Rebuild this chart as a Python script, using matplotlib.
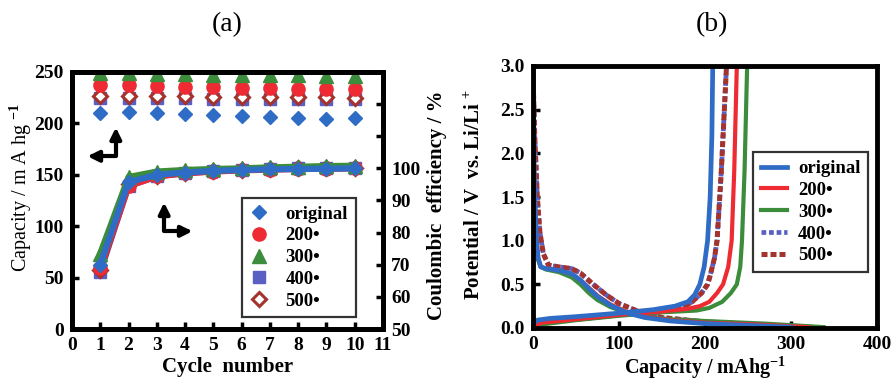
import matplotlib
matplotlib.use("Agg")
import matplotlib.pyplot as plt
import numpy as np

plt.rcParams["font.family"] = ["Liberation Serif", "DejaVu Serif"]
plt.rcParams["mathtext.fontset"] = "custom"
plt.rcParams["mathtext.rm"] = "Liberation Serif:bold"
plt.rcParams["mathtext.bf"] = "Liberation Serif:bold"

# ── (a) cycling data ─────────────────────────────────────────────────
cycles = [1, 2, 3, 4, 5, 6, 7, 8, 9, 10]
labels = ["original", "200\u2022", "300\u2022", "400\u2022", "500\u2022"]

cap_original = [210, 211, 210, 209, 208, 207, 206, 205, 204.5, 205]
cap_200 = [237, 237, 236, 235, 235, 234, 234, 233, 233, 233]
cap_300 = [249, 249, 248, 248, 247, 247, 247, 247, 246, 246]
cap_400 = [225, 225, 225, 225, 224, 224, 224, 224, 224, 224]
cap_500 = [227, 227, 227, 227, 226, 226, 226, 226, 226, 225]

ce_original = [70, 95.7, 98, 98.7, 99.2, 99.5, 99.7, 99.8, 99.9, 100]
ce_200 = [69, 94.5, 97.5, 98.5, 99, 99.4, 99.6, 99.8, 99.9, 100]
ce_300 = [73.5, 97.3, 99, 99.5, 99.8, 100, 100.3, 100.5, 100.7, 100.8]
ce_400 = [67.8, 94.5, 97.5, 98.5, 99.1, 99.5, 99.8, 100, 100.1, 100.2]
ce_500 = [68.3, 95, 97.7, 98.6, 99.2, 99.6, 99.9, 100, 100.1, 100.1]

# ── (b) charge / discharge curves (capacity, potential) ──────────────
dis_original_x = [0, 1, 2, 4, 6, 9, 15, 30, 45, 55, 65, 75, 90, 110, 130, 160, 200, 250, 300]
dis_original_y = [3.0, 2.0, 1.5, 1.0, 0.8, 0.7, 0.68, 0.66, 0.62, 0.55, 0.45, 0.36, 0.26, 0.17, 0.12, 0.08, 0.05, 0.03, 0.01]
dis_200_x = [0, 1, 2, 4, 6, 9, 15, 30, 45, 55, 65, 75, 90, 110, 130, 160, 200, 260, 320]
dis_200_y = [3.0, 2.0, 1.5, 1.0, 0.8, 0.7, 0.68, 0.66, 0.62, 0.55, 0.46, 0.37, 0.27, 0.18, 0.13, 0.09, 0.06, 0.04, 0.01]
dis_300_x = [0, 1, 2, 4, 6, 9, 15, 30, 45, 55, 65, 75, 90, 110, 130, 160, 200, 270, 338]
dis_300_y = [3.0, 1.8, 1.3, 0.95, 0.78, 0.7, 0.67, 0.64, 0.58, 0.5, 0.4, 0.32, 0.24, 0.17, 0.13, 0.1, 0.08, 0.05, 0.01]
dis_400_x = [0, 2, 5, 8, 12, 18, 30, 45, 55, 70, 85, 100, 120, 150, 200, 260, 322]
dis_400_y = [2.9, 2.2, 1.5, 1.1, 0.85, 0.72, 0.7, 0.68, 0.63, 0.5, 0.38, 0.28, 0.2, 0.12, 0.07, 0.04, 0.01]
dis_500_x = [0, 2, 5, 8, 12, 18, 30, 45, 55, 70, 85, 100, 120, 150, 200, 260, 324]
dis_500_y = [2.9, 2.2, 1.5, 1.1, 0.85, 0.72, 0.7, 0.68, 0.63, 0.5, 0.38, 0.28, 0.2, 0.12, 0.07, 0.04, 0.01]

chg_original_x = [0, 5, 20, 50, 100, 140, 165, 180, 188, 194, 199, 203, 206, 208, 209]
chg_original_y = [0.05, 0.09, 0.11, 0.13, 0.17, 0.21, 0.25, 0.3, 0.38, 0.5, 0.7, 1.0, 1.5, 2.2, 3.0]
chg_200_x = [0, 10, 50, 100, 150, 180, 194, 205, 214, 221, 227, 231, 234, 237]
chg_200_y = [0.02, 0.06, 0.1, 0.15, 0.19, 0.22, 0.25, 0.3, 0.4, 0.5, 0.7, 1.0, 1.8, 3.0]
chg_300_x = [0, 10, 50, 100, 150, 190, 205, 220, 230, 237, 241, 243, 246, 249]
chg_300_y = [0.0, 0.04, 0.09, 0.14, 0.18, 0.2, 0.23, 0.3, 0.4, 0.5, 0.7, 1.0, 1.8, 3.0]
chg_400_x = [0, 10, 50, 100, 150, 175, 185, 196, 203, 206, 211, 214, 219, 225]
chg_400_y = [0.03, 0.07, 0.1, 0.15, 0.2, 0.24, 0.3, 0.4, 0.5, 0.6, 0.8, 1.0, 1.8, 3.0]
chg_500_x = [0, 10, 50, 100, 150, 175, 185, 196, 203, 206, 211, 214, 219, 225]
chg_500_y = [0.03, 0.07, 0.1, 0.15, 0.2, 0.24, 0.3, 0.4, 0.5, 0.6, 0.8, 1.0, 1.8, 3.0]

C_BLUE = "#2f6cc6"
C_RED = "#ee2a32"
C_GREEN = "#3b8c3b"
C_PURPLE = "#5a5fc4"
C_DRED = "#a3332c"

W, H = 891, 379
fig = plt.figure(figsize=(W / 100, H / 100), dpi=100)


def px_axes(l, t, r, b):
    return fig.add_axes([l / W, 1 - b / H, (r - l) / W, (b - t) / H])


def style(ax):
    for s in ax.spines.values():
        s.set_linewidth(3.5)
    ax.tick_params(direction="in", width=2.5, length=5, labelsize=14, pad=6)
    for t in ax.get_xticklabels() + ax.get_yticklabels():
        t.set_fontweight("bold")


# ── panel (a) ────────────────────────────────────────────────────────
ax = px_axes(72, 72, 383, 329)
ax2 = ax.twinx()

series_a = [
    (cap_400, ce_400, "s", 8.5, C_PURPLE, C_PURPLE, "400"),
    (cap_500, ce_500, "D", 7, C_DRED, "white", "500"),
    (cap_200, ce_200, "o", 9.5, C_RED, C_RED, "200"),
    (cap_300, ce_300, "^", 9.5, C_GREEN, C_GREEN, "300"),
    (cap_original, ce_original, "D", 7, C_BLUE, C_BLUE, "original"),
]
handles = {}
for cap, ce, m, ms, ec, fc, name in series_a:
    mew = 2.2 if fc == "white" else 1
    h, = ax.plot(cycles, cap, m, ms=ms, mec=ec, mfc=fc, mew=mew, ls="none")
    handles[name] = h
    ax2.plot(cycles, ce, "-", color=ec, lw=4.5, marker=m, ms=ms, mec=ec, mfc=fc, mew=mew, zorder=3)

ax.set_xlim(0, 11)
ax.set_ylim(0, 250)
ax.set_xticks(range(0, 12))
ax.set_yticks(range(0, 251, 50))
ax2.set_ylim(50, 130)
ax2.set_yticks(range(50, 131, 10))
ax2.set_yticklabels([str(v) if v <= 100 else "" for v in range(50, 131, 10)])
style(ax)
style(ax2)
ax.tick_params(top=True)
ax.set_xlabel("Cycle  number", fontsize=15, fontweight="bold", va="center")
ax.xaxis.set_label_coords(0.5, -0.148)
ax.set_ylabel("Capacity / m A hg $^{\\mathrm{-1}}$", fontsize=14.5, va="center")
ax.yaxis.set_label_coords(-0.167, 0.55)
ax2.set_ylabel("Coulombic  efficiency / %", fontsize=15, fontweight="bold", va="center")
ax2.yaxis.set_label_coords(1.174, 0.48)

leg = ax.legend([handles[k] for k in ["original", "200", "300", "400", "500"]], labels,
                loc="upper left", bbox_to_anchor=(0.548, 0.51), frameon=True, fancybox=False,
                edgecolor="black", handlelength=1.0, handletextpad=0.9,
                labelspacing=0.25, borderpad=0.4, borderaxespad=0,
                prop={"weight": "bold", "size": 13.5})
leg.get_frame().set_linewidth(1.6)

arrow_kw = dict(arrowstyle="<|-|>", lw=3, color="black", mutation_scale=16, shrinkA=0, shrinkB=0)
ax.annotate("", xy=(1.55, 196), xytext=(0.55, 168),
            arrowprops=dict(connectionstyle="angle,angleA=0,angleB=90,rad=0", **arrow_kw))
ax.annotate("", xy=(3.26, 123), xytext=(4.26, 95),
            arrowprops=dict(connectionstyle="angle,angleA=180,angleB=90,rad=0", **arrow_kw))

fig.text(227 / W, 1 - 25 / H, "(a)", fontsize=20, ha="center", va="center",
         family=["Liberation Serif"])

# ── panel (b) ────────────────────────────────────────────────────────
bx = px_axes(533, 66, 877, 328)
curves = [
    (dis_400_x, dis_400_y, chg_400_x, chg_400_y, C_PURPLE, (0, (1.0, 0.6)), 3.4, "400"),
    (dis_500_x, dis_500_y, chg_500_x, chg_500_y, C_DRED, (0, (1.2, 0.6)), 3.6, "500"),
    (dis_300_x, dis_300_y, chg_300_x, chg_300_y, C_GREEN, "-", 3.0, "300"),
    (dis_200_x, dis_200_y, chg_200_x, chg_200_y, C_RED, "-", 3.0, "200"),
    (dis_original_x, dis_original_y, chg_original_x, chg_original_y, C_BLUE, "-", 3.4, "original"),
]
lh = {}
for dx, dy, cx, cy, col, ls, lw, name in curves:
    h, = bx.plot(dx, dy, color=col, ls=ls, lw=lw)
    bx.plot(cx, cy, color=col, ls=ls, lw=lw)
    lh[name] = h

bx.set_xlim(0, 400)
bx.set_ylim(0, 3.0)
bx.set_xticks(range(0, 401, 100))
bx.set_yticks(np.arange(0, 3.01, 0.5))
bx.set_yticklabels([f"{v:.1f}" for v in np.arange(0, 3.01, 0.5)])
style(bx)
bx.set_xlabel("Capacity / mAhg$^{-1}$", fontsize=14.5, fontweight="bold", va="center")
bx.xaxis.set_label_coords(0.5, -0.15)
bx.set_ylabel("Potential / V  vs. Li/Li $^{+}$", fontsize=15, fontweight="bold", va="center")
bx.yaxis.set_label_coords(-0.169, 0.51)

leg2 = bx.legend([lh[k] for k in ["original", "200", "300", "400", "500"]], labels,
                 loc="upper left", bbox_to_anchor=(0.64, 0.67), frameon=True, fancybox=False,
                 edgecolor="black", handlelength=1.4, handletextpad=0.6,
                 labelspacing=0.25, borderpad=0.4, borderaxespad=0,
                 prop={"weight": "bold", "size": 13.5})
leg2.get_frame().set_linewidth(1.6)

fig.text(712 / W, 1 - 25 / H, "(b)", fontsize=20, ha="center", va="center",
         family=["Liberation Serif"])

fig.savefig("out.png", dpi=100)
